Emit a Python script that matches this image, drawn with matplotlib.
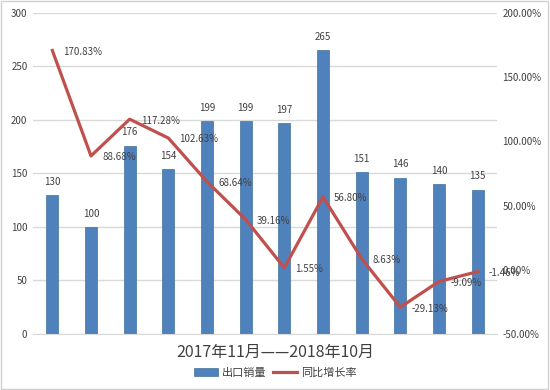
import numpy as np
import matplotlib.pyplot as plt
from matplotlib.patches import Rectangle

plt.rcParams['font.family'] = ['Noto Sans CJK SC', 'DejaVu Sans']

months = ['2017-11', '2017-12', '2018-01', '2018-02', '2018-03', '2018-04',
          '2018-05', '2018-06', '2018-07', '2018-08', '2018-09', '2018-10']
sales = [130, 100, 176, 154, 199, 199, 197, 265, 151, 146, 140, 135]
growth = [170.83, 88.68, 117.28, 102.63, 68.64, 39.16, 1.55, 56.80, 8.63, -29.13, -9.09, -1.46]
left_ticks = [0, 50, 100, 150, 200, 250, 300]
right_ticks = [-50, 0, 50, 100, 150, 200]

blue = '#4F81BD'
red = '#C0504D'
txt = '#404040'

fig = plt.figure(figsize=(5.5, 3.9), dpi=100)
fig.patches.append(Rectangle((0.002, 0.003), 0.995, 0.994, transform=fig.transFigure,
                             fill=False, edgecolor='#d0d0d0', lw=1))
ax = fig.add_axes([0.06, 0.1436, 0.8436, 0.8231])
x = np.arange(len(months))

bars = ax.bar(x, sales, width=0.31, color=blue, edgecolor='#41719C', lw=0.5, zorder=2,
              label='出口销量')
for xi, v in zip(x, sales):
    ax.annotate(str(v), (xi, v), xytext=(0, 6), textcoords='offset points',
                ha='center', va='bottom', fontsize=7, color=txt)

ax.set_xlim(-0.5, len(months) - 0.5)
ax.set_ylim(0, 300)
ax.set_yticks(left_ticks)
ax.grid(axis='y', color='#d9d9d9', lw=1, zorder=0)
ax.set_xticks([])
ax.tick_params(axis='y', length=0, labelsize=7, labelcolor=txt, pad=4)
for s in ['top', 'left', 'right']:
    ax.spines[s].set_visible(False)
ax.spines['bottom'].set_color('#d9d9d9')

ax2 = ax.twinx()
ax2.plot(x, growth, color=red, lw=2.3, zorder=3, label='同比增长率')
for xi, v in zip(x, growth):
    ax2.annotate(f'{v:.2f}%', (xi, v), xytext=(8, -1), textcoords='offset points',
                 ha='left', va='center', fontsize=7, color=txt)
ax2.set_ylim(-50, 200)
ax2.set_yticks(right_ticks)
ax2.set_yticklabels([f'{t:.2f}%' for t in right_ticks])
ax2.tick_params(axis='y', length=0, labelsize=7, labelcolor=txt, pad=4)
for s in ['top', 'left', 'right', 'bottom']:
    ax2.spines[s].set_visible(False)

fig.text(0.5, 0.097, '2017年11月——2018年10月', ha='center', va='center',
         fontsize=11.5, color=txt)

h1, l1 = ax.get_legend_handles_labels()
h2, l2 = ax2.get_legend_handles_labels()
fig.legend(h1 + h2, l1 + l2, loc='center', bbox_to_anchor=(0.5, 0.044), ncol=2,
           frameon=False, fontsize=8, handlelength=2.2, columnspacing=0.6,
           handletextpad=0.3, labelcolor=txt)

fig.savefig('out.png', dpi=100)
